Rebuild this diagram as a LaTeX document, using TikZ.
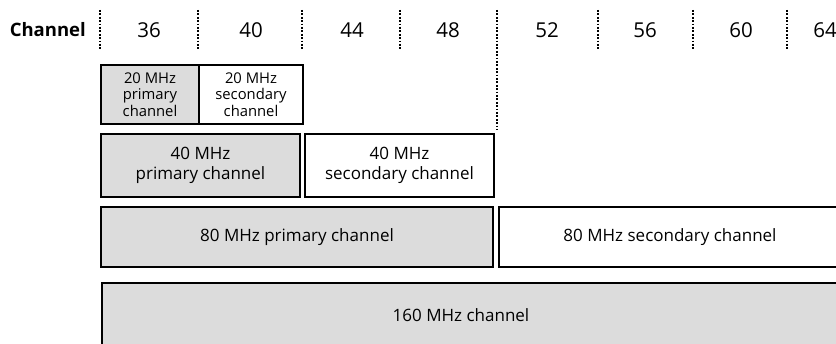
\documentclass[tikz,border=0pt]{standalone}
\usepackage{fontspec}
\setmainfont{Open Sans}
\begin{document}
\begin{tikzpicture}[x=1pt,y=-1pt,
  box/.style={draw=black, line width=1.8pt, inner sep=0pt, align=center, font=\fontsize{17}{20.5}\selectfont},
  smallbox/.style={box, font=\fontsize{14.8}{16.5}\selectfont},
  pri/.style={fill=chgray},
  sec/.style={fill=white},
  sep/.style={line width=1.8pt, dash pattern=on 1.8pt off 1.6pt},
  hdr/.style={font=\fontsize{20.5}{22}\selectfont, inner sep=0pt}
]
\definecolor{chgray}{HTML}{DCDCDC}
\useasboundingbox (0,0) rectangle (836,344);
\clip (0,0) rectangle (836,344);
\fill[white] (0,0) rectangle (836,344);
% header
\node[hdr, font=\bfseries\fontsize{18.5}{22}\selectfont, anchor=east] (ch) at (86,30) {Channel};
\foreach \n/\x in {36/149,40/251,44/352,48/448,52/547,56/645,60/741,64/825}{
  \node[hdr] (n\n) at (\x,30) {\n};
}
\foreach \i/\x/\b in {1/100/49,2/198/49,3/302/49,4/400/49,5/497/130,6/598/49,7/693/49,8/787/49}{
  \coordinate (s\i a) at (\x,10);
  \coordinate (s\i b) at (\x,\b);
  \draw[sep] (s\i a) -- (s\i b);
}
% row 1
\node[smallbox, pri, minimum width=98, minimum height=59] (p20) at (150,94.5) {20 MHz\\primary\\channel};
\node[smallbox, sec, minimum width=104, minimum height=59] (s20) at (251,94.5) {20 MHz\\secondary\\channel};
% row 2
\node[box, pri, minimum width=199, minimum height=63] (p40) at (200.5,165.5) {40 MHz\\primary channel};
\node[box, sec, minimum width=189, minimum height=63] (s40) at (399.5,165.5) {40 MHz\\secondary channel};
% row 3
\node[box, pri, minimum width=392, minimum height=60] (p80) at (297,237) {80 MHz primary channel};
\node[box, sec, minimum width=342, minimum height=60] (s80) at (670,237) {80 MHz secondary channel};
% row 4
\node[box, pri, minimum width=800, minimum height=80, anchor=north west] (c160) at (101,282) {};
\node[font=\fontsize{17}{20.5}\selectfont, inner sep=0pt] (t160) at (461,315) {160 MHz channel};
\end{tikzpicture}
\end{document}
